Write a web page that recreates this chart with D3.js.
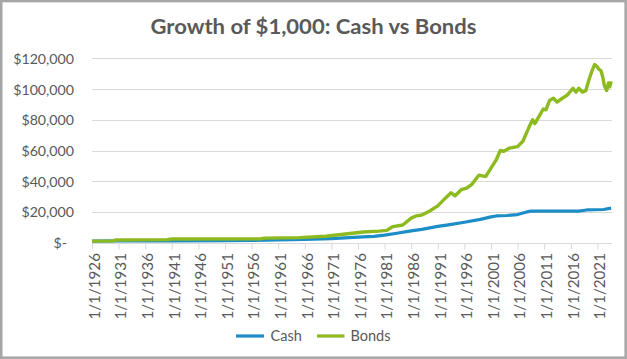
<!DOCTYPE html>
<html>
<head>
<meta charset="utf-8">
<script src="https://cdn.jsdelivr.net/npm/d3@7"></script>
<style>
  html, body { margin: 0; padding: 0; background: #ffffff; }
  svg { display: block; }
  text { font-family: Lato, "Open Sans", sans-serif; fill: #595959; }
</style>
</head>
<body>
<svg id="chart" width="627" height="359"></svg>
<script>
// ---------- data ----------
const chartTitle = "Growth of $1,000: Cash vs Bonds";
const seriesNames = ["Cash", "Bonds"];
const seriesColors = ["#1C8DC6", "#8DBA1E"];

const cashDates = ["1926-01","1931-01","1941-01","1951-01","1956-01","1961-01","1966-01","1971-01",
  "1976-01","1979-01","1981-01","1983-01","1986-01","1988-01","1991-01","1993-01","1996-01",
  "1999-01","2001-01","2002-01","2004-01","2006-01","2007-01","2008-01","2008-07","2017-07",
  "2019-01","2022-03","2023-08"];
const cashValues = [1000,1150,1200,1300,1500,1800,2100,2700,
  3600,4100,4900,6000,7700,8700,10600,11600,13300,
  15200,16800,17400,17700,18300,19300,20200,20500,20600,
  21300,21600,22500];

const bondDates = ["1926-01","1930-01","1930-06","1940-03","1941-01","1957-09","1958-06","1965-01",
  "1970-01","1972-01","1977-01","1980-01","1981-06","1982-08","1984-06","1986-01","1987-01",
  "1988-01","1989-06","1991-01","1992-06","1993-07","1994-04","1995-06","1996-06","1997-06",
  "1998-10","2000-01","2001-01","2002-01","2002-10","2003-06","2004-06","2006-01","2007-01",
  "2007-10","2008-04","2008-11","2009-04","2010-04","2010-11","2011-05","2012-01","2012-10",
  "2013-06","2014-06","2015-05","2016-06","2017-01","2017-07","2018-03","2018-11","2019-06",
  "2020-01","2020-07","2021-01","2021-04","2021-09","2022-01","2022-05","2022-10","2023-02",
  "2023-05","2023-08"];
const bondValues = [1000,1200,1750,2000,2400,2500,3000,3300,
  4200,5000,7000,7500,8000,10500,11500,16000,17500,
  18000,20500,24000,29000,32500,30500,34500,35500,38000,
  44000,43000,48500,54000,60000,59500,61500,62500,66000,
  72000,76000,80000,77500,83500,87000,86500,92500,94000,
  91500,94000,96000,100500,98000,100500,98000,99000,106000,
  112000,116000,114500,113000,112000,108000,102000,99000,104000,
  101500,105000];

const yTickValues = [0,20000,40000,60000,80000,100000,120000];
const yTickLabels = ["$-","$20,000","$40,000","$60,000","$80,000","$100,000","$120,000"];
const xTickYears = [1926,1931,1936,1941,1946,1951,1956,1961,1966,1971,1976,1981,1986,1991,1996,2001,2006,2011,2016,2021];
const xTickLabels = xTickYears.map(y => "1/1/" + y);

// ---------- helpers ----------
const toYear = s => { const [y, m] = s.split("-").map(Number); return y + (m - 1) / 12; };
const cashData = cashDates.map((d, i) => ({ t: toYear(d), v: cashValues[i] }));
const bondData = bondDates.map((d, i) => ({ t: toYear(d), v: bondValues[i] }));

// ---------- layout ----------
const plot = { left: 92, right: 612, top: 58.3, bottom: 242.7 };
const svg = d3.select("#chart");

// chart border
svg.append("rect")
  .attr("x", 1.25).attr("y", 1.1).attr("width", 624.4).attr("height", 356.6)
  .attr("fill", "#ffffff").attr("stroke", "#A6A6A6").attr("stroke-width", 2.5);

// title
svg.append("text")
  .attr("x", 313.5).attr("y", 33.5)
  .attr("text-anchor", "middle")
  .style("font-size", "21.5px").style("font-weight", "700")
  .attr("textLength", 326).attr("lengthAdjust", "spacingAndGlyphs")
  .text(chartTitle);

const x = d3.scaleLinear().domain([1926, 2023.75]).range([plot.left, plot.right]);
const y = d3.scaleLinear().domain([0, 120000]).range([plot.bottom, plot.top]);

// gridlines
svg.append("g").selectAll("line").data(yTickValues).join("line")
  .attr("x1", plot.left).attr("x2", plot.right)
  .attr("y1", d => Math.round(y(d)) + 0.5).attr("y2", d => Math.round(y(d)) + 0.5)
  .attr("stroke", "#D9D9D9").attr("stroke-width", 1);

// y axis labels
const yAxis = d3.axisLeft(y).tickValues(yTickValues)
  .tickFormat((d, i) => yTickLabels[i]).tickSize(0).tickPadding(0);
const yg = svg.append("g").attr("transform", `translate(74,0)`).call(yAxis);
yg.select(".domain").remove();
yg.selectAll("text").style("font-size", "14.2px").style("font-family", "Lato, sans-serif")
  .attr("fill", "#595959").attr("dy", "0.35em")
  .attr("x", d => d === 0 ? -7 : 0);

// x axis (tick marks + rotated labels)
const xAxis = d3.axisBottom(x).tickValues(xTickYears)
  .tickFormat((d, i) => xTickLabels[i]).tickSize(6).tickPadding(0);
const xg = svg.append("g").attr("transform", `translate(0,${Math.round(plot.bottom) + 0.5})`).call(xAxis);
xg.select(".domain").attr("stroke", "#D9D9D9").attr("d", `M${plot.left},0H${plot.right}`);
xg.selectAll(".tick line").attr("stroke", "#D9D9D9");
xg.selectAll(".tick text")
  .style("font-size", "15.2px").style("font-family", "Lato, sans-serif")
  .attr("fill", "#595959")
  .attr("text-anchor", "end")
  .attr("transform", "translate(2,9.5) rotate(-90)")
  .attr("x", 0).attr("y", 0).attr("dy", "0.35em");

// lines
const line = d3.line().x(d => x(d.t)).y(d => y(d.v)).curve(d3.curveLinear);
[cashData, bondData].forEach((data, i) => {
  svg.append("path").datum(data)
    .attr("d", line)
    .attr("fill", "none")
    .attr("stroke", seriesColors[i])
    .attr("stroke-width", i === 1 ? 3.4 : 3.2)
    .attr("stroke-linejoin", "round")
    .attr("stroke-linecap", "butt");
});

// legend
const legendItems = [
  { name: seriesNames[0], color: seriesColors[0], x1: 236, x2: 264, tx: 270.5 },
  { name: seriesNames[1], color: seriesColors[1], x1: 317, x2: 344.5, tx: 350.5 }
];
const lg = svg.append("g");
legendItems.forEach(it => {
  lg.append("line").attr("x1", it.x1).attr("x2", it.x2).attr("y1", 336).attr("y2", 336)
    .attr("stroke", it.color).attr("stroke-width", 3.2);
  lg.append("text").attr("x", it.tx).attr("y", 336).attr("dy", "0.35em")
    .style("font-size", "14.5px").text(it.name);
});
</script>
</body>
</html>
